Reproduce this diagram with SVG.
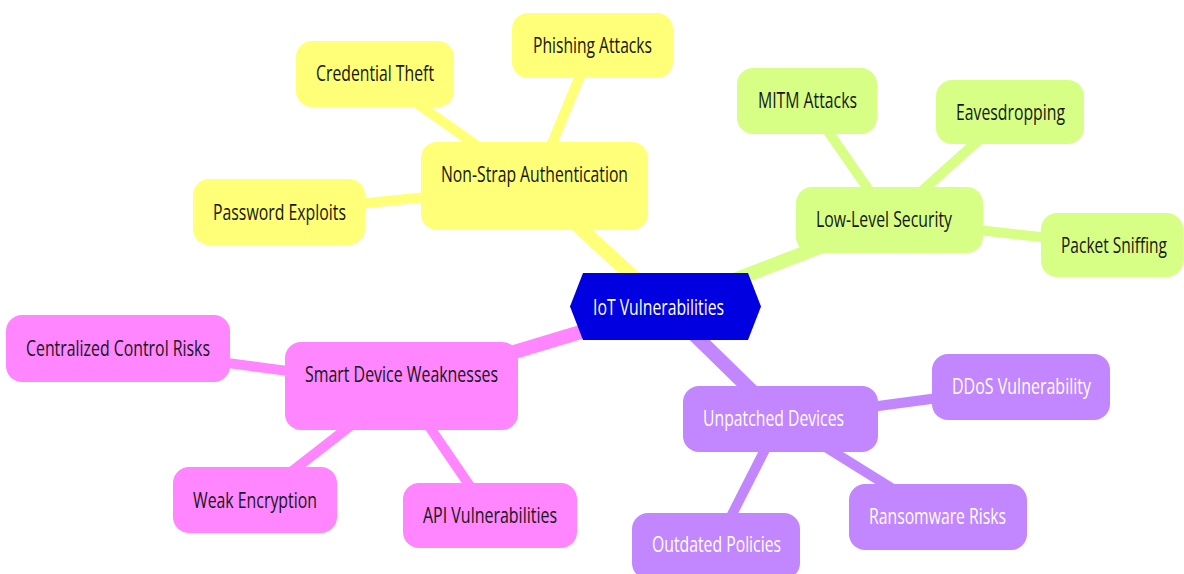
<svg xmlns="http://www.w3.org/2000/svg" width="1184" height="574" viewBox="0 0 1184 574">
<style>
text{font-family:"Open Sans","Noto Sans","DejaVu Sans",sans-serif;font-size:21px;text-anchor:middle}
.dark{fill:#161616}
.light{fill:#ffffff}
.e{fill:none;stroke-linecap:round}
.d1{stroke-width:14}
.d2{stroke-width:10}
.y{fill:#ffff78}
.g{fill:#d7ff86}
.p{fill:#c286ff}
.m{fill:#ff86ff}
.sy{stroke:#ffff78}
.sg{stroke:#d7ff86}
.sp{stroke:#c286ff}
.sm{stroke:#ff86ff}
</style>
<rect width="1184" height="574" fill="#ffffff"/>
<g id="connectors">
<line class="e d1 sy" x1="665.5" y1="306.5" x2="534.5" y2="186"/>
<line class="e d2 sy" x1="534.5" y1="186" x2="592.5" y2="45.5"/>
<line class="e d2 sy" x1="534.5" y1="186" x2="375" y2="74"/>
<line class="e d2 sy" x1="534.5" y1="186" x2="279" y2="212"/>
<line class="e d1 sg" x1="665.5" y1="306.5" x2="889.5" y2="220"/>
<line class="e d2 sg" x1="889.5" y1="220" x2="807" y2="101"/>
<line class="e d2 sg" x1="889.5" y1="220" x2="1010" y2="112"/>
<line class="e d2 sg" x1="889.5" y1="220" x2="1112" y2="245"/>
<line class="e d1 sm" x1="665.5" y1="306.5" x2="401.5" y2="386"/>
<line class="e d2 sm" x1="401.5" y1="386" x2="118" y2="348.5"/>
<line class="e d2 sm" x1="401.5" y1="386" x2="255" y2="500"/>
<line class="e d2 sm" x1="401.5" y1="386" x2="490" y2="515.5"/>
<line class="e d1 sp" x1="665.5" y1="306.5" x2="780.5" y2="419"/>
<line class="e d2 sp" x1="780.5" y1="419" x2="1021" y2="387"/>
<line class="e d2 sp" x1="780.5" y1="419" x2="938" y2="517"/>
<line class="e d2 sp" x1="780.5" y1="419" x2="716" y2="546"/>
</g>
<g id="root">
<polygon points="570,306.5 583,273 748,273 761,306.5 748,340 583,340" fill="#0000e0"/>
<text class="light" x="658.5" y="315" textLength="131" lengthAdjust="spacingAndGlyphs">IoT Vulnerabilities</text>
</g>
<g id="non-strap-authentication">
<rect class="y" x="421" y="142" width="227" height="88" rx="16"/>
<text class="dark" x="534.5" y="182" textLength="187" lengthAdjust="spacingAndGlyphs">Non-Strap Authentication</text>
</g>
<g id="phishing-attacks">
<rect class="y" x="512" y="13" width="161" height="65" rx="16"/>
<text class="dark" x="592.5" y="53" textLength="119" lengthAdjust="spacingAndGlyphs">Phishing Attacks</text>
</g>
<g id="credential-theft">
<rect class="y" x="296" y="41" width="158" height="66" rx="16"/>
<text class="dark" x="375" y="81" textLength="118" lengthAdjust="spacingAndGlyphs">Credential Theft</text>
</g>
<g id="password-exploits">
<rect class="y" x="193" y="179" width="172" height="66" rx="16"/>
<text class="dark" x="279.5" y="220" textLength="133" lengthAdjust="spacingAndGlyphs">Password Exploits</text>
</g>
<g id="low-level-security">
<rect class="g" x="796" y="187" width="187" height="66" rx="16"/>
<text class="dark" x="884" y="227" textLength="136" lengthAdjust="spacingAndGlyphs">Low-Level Security</text>
</g>
<g id="mitm-attacks">
<rect class="g" x="737" y="68" width="140" height="66" rx="16"/>
<text class="dark" x="807.5" y="108" textLength="99" lengthAdjust="spacingAndGlyphs">MITM Attacks</text>
</g>
<g id="eavesdropping">
<rect class="g" x="936" y="80" width="148" height="64" rx="16"/>
<text class="dark" x="1010.5" y="120" textLength="109" lengthAdjust="spacingAndGlyphs">Eavesdropping</text>
</g>
<g id="packet-sniffing">
<rect class="g" x="1041" y="213" width="142" height="64" rx="16"/>
<text class="dark" transform="translate(1114,253) scale(0.76,1)" x="0" y="0" textLength="139.5" lengthAdjust="spacingAndGlyphs">Packet Sniffing</text>
</g>
<g id="smart-device-weaknesses">
<rect class="m" x="285" y="342" width="233" height="88" rx="16"/>
<text class="dark" x="401.5" y="382" textLength="193" lengthAdjust="spacingAndGlyphs">Smart Device Weaknesses</text>
</g>
<g id="centralized-control-risks">
<rect class="m" x="6" y="315" width="224" height="67" rx="16"/>
<text class="dark" x="118" y="356" textLength="184" lengthAdjust="spacingAndGlyphs">Centralized Control Risks</text>
</g>
<g id="weak-encryption">
<rect class="m" x="173" y="467" width="164" height="66" rx="16"/>
<text class="dark" x="255" y="508" textLength="124" lengthAdjust="spacingAndGlyphs">Weak Encryption</text>
</g>
<g id="api-vulnerabilities">
<rect class="m" x="403" y="483" width="174" height="65" rx="16"/>
<text class="dark" x="490" y="523" textLength="134" lengthAdjust="spacingAndGlyphs">API Vulnerabilities</text>
</g>
<g id="unpatched-devices">
<rect class="p" x="683" y="386" width="195" height="66" rx="16"/>
<text class="light" x="773.5" y="426" textLength="141" lengthAdjust="spacingAndGlyphs">Unpatched Devices</text>
</g>
<g id="ddos-vulnerability">
<rect class="p" x="932" y="354" width="178" height="66" rx="16"/>
<text class="light" x="1021.5" y="394" textLength="139" lengthAdjust="spacingAndGlyphs">DDoS Vulnerability</text>
</g>
<g id="ransomware-risks">
<rect class="p" x="849" y="484" width="178" height="66" rx="16"/>
<text class="light" x="937.5" y="524" textLength="137" lengthAdjust="spacingAndGlyphs">Ransomware Risks</text>
</g>
<g id="outdated-policies">
<rect class="p" x="632" y="513" width="168" height="66" rx="16"/>
<text class="light" x="716.5" y="552" textLength="129" lengthAdjust="spacingAndGlyphs">Outdated Policies</text>
</g>
</svg>
